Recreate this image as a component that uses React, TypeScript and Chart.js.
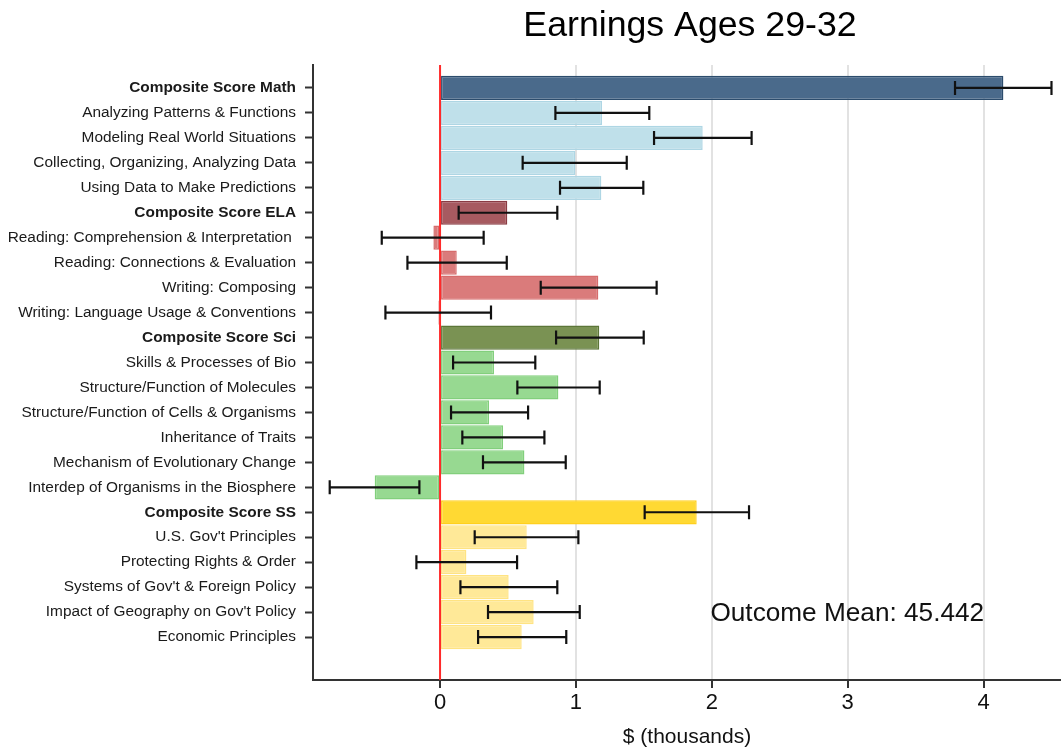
import { useEffect, useRef } from 'react';
import { Chart, registerables } from 'chart.js';

Chart.register(...registerables);

const categories = [
  'Composite Score Math',
  'Analyzing Patterns & Functions',
  'Modeling Real World Situations',
  'Collecting, Organizing, Analyzing Data',
  'Using Data to Make Predictions',
  'Composite Score ELA',
  'Reading: Comprehension & Interpretation ',
  'Reading: Connections & Evaluation',
  'Writing: Composing',
  'Writing: Language Usage & Conventions',
  'Composite Score Sci',
  'Skills & Processes of Bio',
  'Structure/Function of Molecules',
  'Structure/Function of Cells & Organisms',
  'Inheritance of Traits',
  'Mechanism of Evolutionary Change',
  'Interdep of Organisms in the Biosphere',
  'Composite Score SS',
  "U.S. Gov't Principles",
  'Protecting Rights & Order',
  "Systems of Gov't & Foreign Policy",
  "Impact of Geography on Gov't Policy",
  'Economic Principles',
];

const estimates = [
  4.146, 1.192, 1.933, 0.996, 1.187,
  0.495, -0.049, 0.123, 1.165, -0.012,
  1.172, 0.397, 0.871, 0.361, 0.464, 0.621, -0.481,
  1.889, 0.638, 0.194, 0.505, 0.689, 0.601,
];

const ciLow = [
  3.79, 0.849, 1.575, 0.608, 0.883,
  0.137, -0.429, -0.24, 0.741, -0.402,
  0.854, 0.096, 0.569, 0.081, 0.164, 0.316, -0.812,
  1.506, 0.255, -0.174, 0.15, 0.353, 0.28,
];

const ciHigh = [
  4.5, 1.54, 2.293, 1.374, 1.496,
  0.863, 0.321, 0.491, 1.594, 0.375,
  1.499, 0.701, 1.175, 0.648, 0.768, 0.925, -0.152,
  2.274, 1.018, 0.567, 0.863, 1.028, 0.929,
];

const groups = [
  'mathC', 'math', 'math', 'math', 'math',
  'elaC', 'ela', 'ela', 'ela', 'ela',
  'sciC', 'sci', 'sci', 'sci', 'sci', 'sci', 'sci',
  'ssC', 'ss', 'ss', 'ss', 'ss', 'ss',
];

const xTickValues = [0, 1, 2, 3, 4];
const xMin = -0.935;
const xMax = 4.57;
const yMin = -0.92;
const yMax = 23.72;

const chartTitle = 'Earnings Ages 29-32';
const xAxisTitle = '$ (thousands)';
const outcomeNote = 'Outcome Mean: 45.442';
const notePosition = { x: 1.99, y: 21.05 };

const FILL: Record<string, string> = {
  mathC: '#4a6a8b',
  math: '#bfe0ea',
  elaC: '#a75a60',
  ela: '#da7b7b',
  sciC: '#7a9253',
  sci: '#97d991',
  ssC: '#ffd933',
  ss: '#ffe998',
};
const EDGE: Record<string, string> = {
  mathC: '#2c4c6c',
  math: '#aed6e4',
  elaC: '#8a3b43',
  ela: '#d66c6c',
  sciC: '#5c7638',
  sci: '#82cf7c',
  ssC: '#ffd01e',
  ss: '#ffe382',
};

const FONT = '"Liberation Sans", Arial, Helvetica, sans-serif';

export default function App() {
  const ref = useRef<HTMLCanvasElement>(null);

  useEffect(() => {
    if (!ref.current) return;
    Chart.defaults.font.family = FONT;

    const overlay = {
      id: 'overlay',
      afterDatasetsDraw(chart: any) {
        const { ctx, chartArea, scales } = chart;
        const xs = scales.x;
        const ys = scales.y;
        ctx.save();
        // zero reference line
        const x0 = xs.getPixelForValue(0);
        ctx.strokeStyle = '#ff2a2a';
        ctx.lineWidth = 2;
        ctx.beginPath();
        ctx.moveTo(x0, chartArea.top);
        ctx.lineTo(x0, chartArea.bottom);
        ctx.stroke();
        // confidence intervals
        ctx.strokeStyle = '#111111';
        ctx.lineWidth = 2.2;
        for (let i = 0; i < categories.length; i++) {
          const y = ys.getPixelForValue(i);
          const a = xs.getPixelForValue(ciLow[i]);
          const b = xs.getPixelForValue(ciHigh[i]);
          ctx.beginPath();
          ctx.moveTo(a, y);
          ctx.lineTo(b, y);
          ctx.moveTo(a, y - 7);
          ctx.lineTo(a, y + 7);
          ctx.moveTo(b, y - 7);
          ctx.lineTo(b, y + 7);
          ctx.stroke();
        }
        // note
        ctx.fillStyle = '#111111';
        ctx.font = `26.2px ${FONT}`;
        ctx.textAlign = 'left';
        ctx.textBaseline = 'middle';
        ctx.fillText(outcomeNote, xs.getPixelForValue(notePosition.x), ys.getPixelForValue(notePosition.y));
        // title
        ctx.font = `35.7px ${FONT}`;
        ctx.textAlign = 'center';
        ctx.fillStyle = '#000000';
        ctx.fillText(chartTitle, (chartArea.left + chartArea.right) / 2 + 3, 26);
        ctx.restore();
      },
    };

    const chart = new Chart(ref.current, {
      type: 'bar',
      data: {
        datasets: [
          {
            data: estimates.map((v, i) => ({ x: v, y: i })),
            backgroundColor: groups.map((g) => FILL[g]),
            borderColor: groups.map((g) => EDGE[g]),
            borderWidth: 1.5,
            borderSkipped: false,
            categoryPercentage: 1,
            barPercentage: 0.97,
          },
        ],
      },
      options: {
        indexAxis: 'y',
        animation: false,
        responsive: true,
        maintainAspectRatio: false,
        layout: { padding: { top: 65, left: 0, right: 0, bottom: 0 } },
        plugins: {
          legend: { display: false },
          tooltip: { enabled: false },
          title: { display: false },
        },
        scales: {
          x: {
            type: 'linear',
            position: 'bottom',
            min: xMin,
            max: xMax,
            offset: false,
            afterFit: (scale: any) => {
              scale.height = 72;
            },
            afterBuildTicks: (scale: any) => {
              scale.ticks = xTickValues.map((v) => ({ value: v }));
            },
            ticks: {
              stepSize: 1,
              includeBounds: false,
              padding: 2,
              color: '#111111',
              font: { size: 22 },
              callback: (v: any) => String(v),
            },
            grid: {
              offset: false,
              color: (c: any) => (c.tick && c.tick.value === 0 ? 'rgba(0,0,0,0)' : '#e2e2e2'),
              lineWidth: 2,
              tickColor: '#333333',
              tickLength: 8,
              tickWidth: 2,
            },
            border: { display: true, color: '#333333', width: 2 },
            title: {
              display: true,
              text: xAxisTitle,
              color: '#111111',
              font: { size: 21 },
              padding: { top: 0, bottom: 2 },
            },
          },
          y: {
            type: 'linear',
            reverse: true,
            min: yMin,
            max: yMax,
            offset: false,
            afterFit: (scale: any) => {
              scale.width = 313;
            },
            afterBuildTicks: (scale: any) => {
              scale.ticks = categories.map((_, i) => ({ value: i }));
            },
            ticks: {
              stepSize: 1,
              includeBounds: false,
              autoSkip: false,
              padding: 9,
              color: '#1a1a1a',
              font: (c: any) => ({
                size: 15.4,
                weight: c.tick && groups[c.tick.value] && groups[c.tick.value].endsWith('C') ? 'bold' : 'normal',
              }),
              callback: (v: any) => categories[v] ?? '',
            },
            grid: {
              offset: false,
              drawOnChartArea: false,
              tickColor: '#333333',
              tickLength: 8,
              tickWidth: 2,
            },
            border: { display: true, color: '#333333', width: 2 },
          },
        },
      },
      plugins: [overlay],
    } as any);

    return () => chart.destroy();
  }, []);

  return (
    <div style={{ position: 'fixed', left: 0, top: 0, width: 1061, height: 752, background: '#ffffff' }}>
      <canvas ref={ref} />
    </div>
  );
}
